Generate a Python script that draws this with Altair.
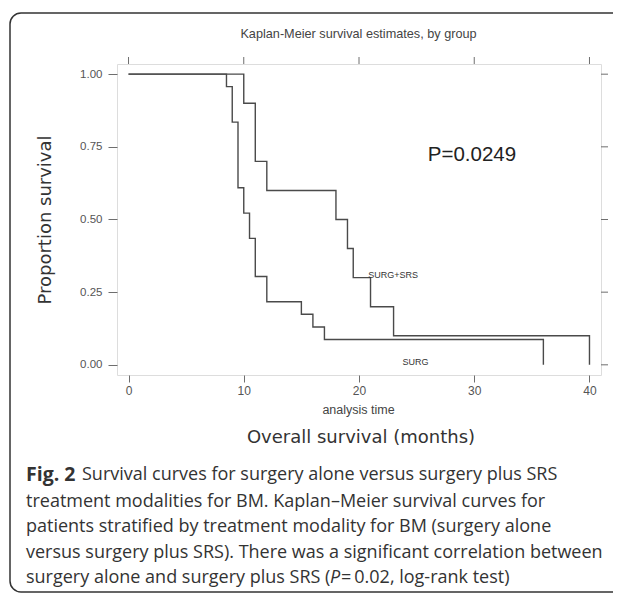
import altair as alt
import pandas as pd

# ---------------- data ----------------
surg_time = [0, 8.5, 9, 9.5, 10, 10.5, 11, 12, 15, 16, 17, 36]
surg_surv = [1.0, 0.957, 0.835, 0.609, 0.522, 0.435, 0.304, 0.217, 0.174, 0.13, 0.087, 0.0]
srs_time = [0, 10, 11, 12, 18, 19, 19.5, 21, 23, 40]
srs_surv = [1.0, 0.9, 0.7, 0.6, 0.5, 0.4, 0.3, 0.2, 0.1, 0.0]
x_ticks = [0, 10, 20, 30, 40]
y_ticks = [0.0, 0.25, 0.5, 0.75, 1.0]

title_text = "Kaplan-Meier survival estimates, by group"
p_text = "P=0.0249"
caption_lines = [
    "treatment modalities for BM. Kaplan\u2013Meier survival curves for",
    "patients stratified by treatment modality for BM (surgery alone",
    "versus surgery plus SRS). There was a significant correlation between",
]

# ---------------- layout ----------------
OX, OY = 117, 64          # absolute position of plot area
W, H = 484, 311
PAD = {"left": OX - 8, "top": OY - 8, "right": 12, "bottom": 218}

LINE_COL = "#4a4a4a"
FRAME_COL = "#6e6e6e"
LAB_COL = "#555555"
CAP = 18.0

xs = alt.Scale(domain=[-1, 41], nice=False, zero=False)
ys = alt.Scale(domain=[-0.035, 1.035], nice=False, zero=False)

X_AX = alt.Axis(values=x_ticks, title=None, domain=False, grid=False, tickSize=7,
                tickColor=FRAME_COL, labelPadding=3, labelFontSize=12,
                labelFont="Liberation Sans", labelColor=LAB_COL, format="d")
Y_AX = alt.Axis(values=y_ticks, title=None, domain=False, grid=False, tickSize=9,
                tickColor=FRAME_COL, labelPadding=6, labelFontSize=11.5,
                labelFont="Liberation Sans", labelColor=LAB_COL, format=".2f")


def X(f):
    return alt.X(f, scale=xs, axis=X_AX, title=None)


def Y(f):
    return alt.Y(f, scale=ys, axis=Y_AX, title=None)


curves = pd.DataFrame({
    "time": surg_time + srs_time,
    "surv": surg_surv + srs_surv,
    "group": ["SURG"] * len(surg_time) + ["SURG+SRS"] * len(srs_time),
})

lines = alt.Chart(curves).mark_line(
    interpolate="step-after", color=LINE_COL, strokeWidth=1.4
).encode(x=X("time:Q"), y=Y("surv:Q"), detail="group:N")

top_ticks = alt.Chart(pd.DataFrame({"time": x_ticks})).mark_rule(
    color=FRAME_COL, strokeWidth=1
).encode(x=X("time:Q"), y=alt.value(-7), y2=alt.value(0))

right_ticks = alt.Chart(pd.DataFrame({"surv": y_ticks})).mark_rule(
    color=FRAME_COL, strokeWidth=1
).encode(y=Y("surv:Q"), x=alt.value(W), x2=alt.value(W + 7))

# labels placed in data coordinates
lab_srs = alt.Chart(pd.DataFrame({"t": ["SURG+SRS"], "time": [20.8], "surv": [0.31]})).mark_text(
    align="left", baseline="middle", fontSize=9, font="Liberation Sans", color="#333"
).encode(x=X("time:Q"), y=Y("surv:Q"), text="t:N")

lab_surg = alt.Chart(pd.DataFrame({"t": ["SURG"], "time": [24.9], "surv": [0.011]})).mark_text(
    align="center", baseline="middle", fontSize=9, font="Liberation Sans", color="#333"
).encode(x=X("time:Q"), y=Y("surv:Q"), text="t:N")

lab_p = alt.Chart(pd.DataFrame({"t": [p_text], "time": [29.8], "surv": [0.723]})).mark_text(
    align="center", baseline="middle", fontSize=20.5, font="Liberation Sans", color="#222"
).encode(x=X("time:Q"), y=Y("surv:Q"), text="t:N")


def txt(s, ax, ay, size, font="Liberation Sans", weight="normal", style="normal",
        align="center", angle=0, color="#333"):
    return alt.Chart(pd.DataFrame({"t": [s]})).mark_text(
        align=align, baseline="middle", fontSize=size, font=font,
        fontWeight=weight, fontStyle=style, angle=angle, color=color
    ).encode(x=alt.value(ax - OX), y=alt.value(ay - OY), text="t:N")


texts = [
    txt(title_text, 358.5, 34, 12.7, color="#444"),
    txt("analysis time", 358.5, 410, 12.5, color="#444"),
    txt("Overall survival (months)", 361, 438, 18, font="DejaVu Sans", color="#333"),
    txt("Proportion survival", 45.5, 220, 18, font="DejaVu Sans", angle=270, color="#333"),
    txt("Fig. 2", 26, 475, 19.5, font="Open Sans", weight="bold", align="left", color="#333"),
    txt("Survival curves for surgery alone versus surgery plus SRS", 82, 475, CAP,
        font="Open Sans", align="left", color="#333"),
    txt(caption_lines[0], 26, 501.5, CAP, font="Open Sans", align="left", color="#333"),
    txt(caption_lines[1], 26, 527, CAP, font="Open Sans", align="left", color="#333"),
    txt(caption_lines[2], 26, 552.5, CAP, font="Open Sans", align="left", color="#333"),
    txt("surgery alone and surgery plus SRS (", 26, 578, CAP, font="Open Sans", align="left", color="#333"),
    txt("P", 330, 578, CAP, font="Open Sans", style="italic", align="left", color="#333"),
    txt("\u2009=\u20090.02, log-rank test)", 341, 578, CAP, font="Open Sans", align="left", color="#333"),
]

border = alt.Chart(pd.DataFrame({"a": [0]})).mark_rect(
    cornerRadius=11, fill="transparent", stroke="#333", strokeWidth=1.5
).encode(x=alt.value(10 - OX), x2=alt.value(660 - OX), y=alt.value(13 - OY), y2=alt.value(592 - OY))

chart = alt.layer(border, lines, top_ticks, right_ticks, lab_srs, lab_surg, lab_p, *texts).properties(
    width=W, height=H, padding=PAD,
    autosize=alt.AutoSizeParams(type="none"),
).configure_view(stroke=FRAME_COL, strokeWidth=1.2).configure(background="white")

chart.save("out.html", embed_options={"renderer": "svg", "actions": False})
